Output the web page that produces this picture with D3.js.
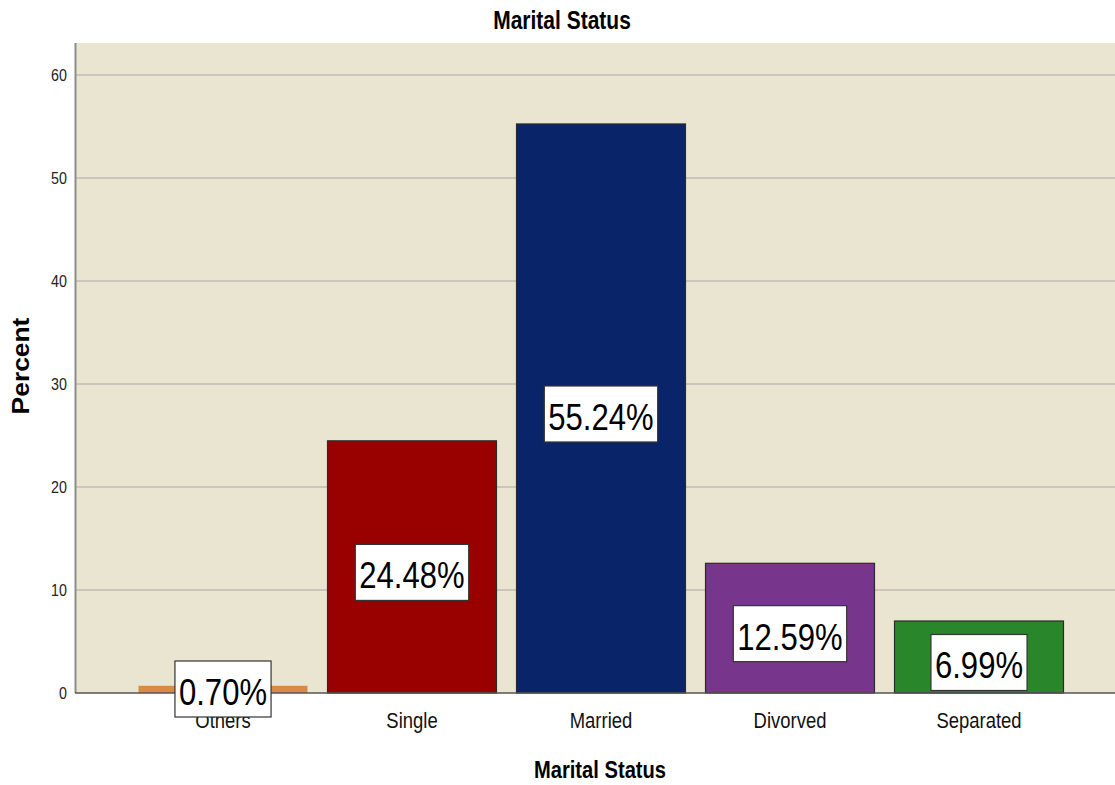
<!DOCTYPE html>
<html lang="en">
<head>
<meta charset="UTF-8">
<title>Marital Status</title>
<style>
  body { margin: 0; background: #fff; }
  text { font-family: "Liberation Sans", Arial, sans-serif; }
</style>
</head>
<body>
<svg id="chart" width="1115" height="785"></svg>
<script src="https://d3js.org/d3.v7.min.js"></script>
<script>
// data
var categories = ["Others", "Single", "Married", "Divorved", "Separated"];
var percents = [0.70, 24.48, 55.24, 12.59, 6.99];
var labels = ["0.70%", "24.48%", "55.24%", "12.59%", "6.99%"];
var yTicks = [0, 10, 20, 30, 40, 50, 60];
var barColors = ["#d68c45", "#990000", "#0a246a", "#77368b", "#2a862a"];

var svg = d3.select("#chart");
var plotL = 76, plotR = 1115, plotT = 43, plotB = 693;
var sx = 0.84; // text in the reference is squeezed sideways

var x = d3.scaleBand().domain(categories).range([128.5, 1073.5])
    .paddingInner(0.106).paddingOuter(0.053);
var y = d3.scaleLinear().domain([0, 63.1]).range([plotB, plotT]);

// plot background
svg.append("rect")
    .attr("x", plotL).attr("y", plotT)
    .attr("width", plotR - plotL).attr("height", plotB - plotT)
    .attr("fill", "#eae5d1");

// grid lines
svg.selectAll(".grid").data(yTicks.filter(function(d){ return d > 0; }))
  .enter().append("line")
    .attr("x1", plotL).attr("x2", plotR)
    .attr("y1", function(d){ return y(d); }).attr("y2", function(d){ return y(d); })
    .attr("stroke", "#c9c6bc").attr("stroke-width", 2);

// helper for squeezed text
function squeezed(g, tx, ty, str, size, weight, anchor, rot, scl) {
  return g.append("text")
      .attr("transform", "translate(" + tx + "," + ty + ")" + (rot ? " rotate(" + rot + ")" : "") + " scale(" + (scl || sx) + ",1)")
      .attr("font-size", size)
      .attr("font-weight", weight || "normal")
      .attr("text-anchor", anchor || "middle")
      .attr("fill", "#000")
      .text(str);
}

// bars
svg.selectAll(".bar").data(percents)
  .enter().append("rect")
    .attr("x", function(d, i){ return x(categories[i]); })
    .attr("y", function(d){ return y(d); })
    .attr("width", x.bandwidth())
    .attr("height", function(d){ return plotB - y(d); })
    .attr("fill", function(d, i){ return barColors[i]; })
    .attr("stroke", function(d, i){ return i === 0 ? "none" : "#2b2b2b"; })
    .attr("stroke-width", 1.2);

// axes lines
svg.append("line").attr("x1", plotL - 0.5).attr("x2", plotL - 0.5).attr("y1", plotT).attr("y2", plotB)
    .attr("stroke", "#8c8c8c").attr("stroke-width", 2);
svg.append("line").attr("x1", plotL - 1).attr("x2", plotR).attr("y1", plotB).attr("y2", plotB)
    .attr("stroke", "#555").attr("stroke-width", 1.5);

// y tick labels
yTicks.forEach(function(d) {
  squeezed(svg, 67, y(d) + 6, d, 17, "normal", "end").attr("fill", "#222");
});

// category labels
categories.forEach(function(c) {
  squeezed(svg, x(c) + x.bandwidth() / 2, 728, c, 22, "normal", "middle").attr("fill", "#111");
});

// value label boxes
percents.forEach(function(v, i) {
  var cx = x(categories[i]) + x.bandwidth() / 2;
  var cy = Math.min(y(v / 2) + 5.5, 689);
  var g = svg.append("g");
  var box = g.append("rect").attr("fill", "#fff").attr("stroke", "#333").attr("stroke-width", 1.2);
  var t = squeezed(g, cx, cy + 16, labels[i], 37, "normal", "middle");
  var w = t.node().getComputedTextLength() * sx + 8;
  box.attr("x", cx - w / 2).attr("y", cy - 28).attr("width", w).attr("height", 56);
});

// titles
squeezed(svg, 562, 29, "Marital Status", 25, "bold", "middle");
squeezed(svg, 600, 778, "Marital Status", 24, "bold", "middle");
squeezed(svg, 29, 366, "Percent", 24, "bold", "middle", -90, 1.1);
</script>
</body>
</html>
